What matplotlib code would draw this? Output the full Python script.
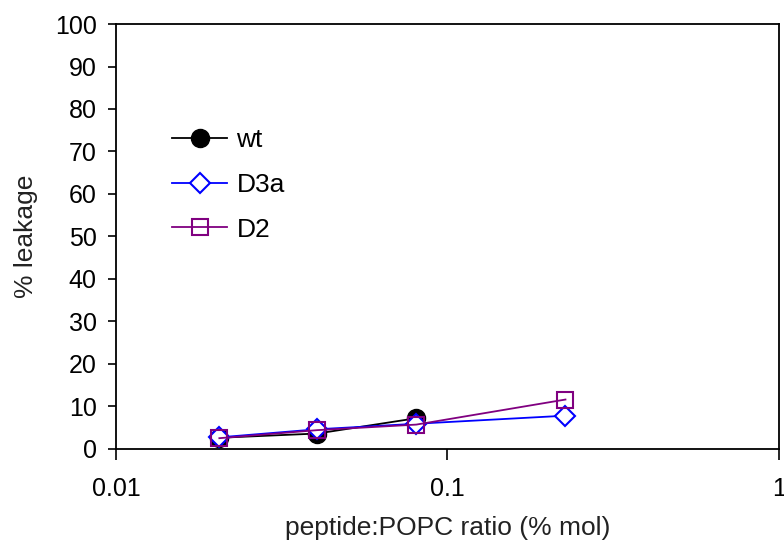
import matplotlib
matplotlib.use("Agg")
import matplotlib.pyplot as plt
from matplotlib.ticker import FixedLocator, NullLocator, FixedFormatter

plt.rcParams['font.family'] = ['Liberation Sans', 'DejaVu Sans']

# data
wt_x = [0.0205, 0.0405, 0.0805]
wt_y = [2.6, 3.6, 7.2]
d3a_x = [0.0205, 0.0405, 0.0805, 0.227]
d3a_y = [2.7, 4.6, 5.9, 7.8]
d2_x = [0.0205, 0.0405, 0.0805, 0.227]
d2_y = [2.5, 4.4, 5.7, 11.6]

x_ticks = [0.01, 0.1, 1]
x_ticklabels = ['0.01', '0.1', '1']
y_ticks = list(range(0, 101, 10))

fig = plt.figure(figsize=(7.84, 5.46), dpi=100)
ax = fig.add_axes([0.148, 0.178, 0.8455, 0.778])

ax.plot(wt_x, wt_y, color='black', lw=1.3, marker='o', ms=13,
        mfc='black', mec='black', label='wt', zorder=3)
ax.plot(d3a_x, d3a_y, color='#0000FF', lw=1.3, marker='D', ms=10,
        mfc='white', mec='#0000FF', mew=1.5, label='D3a', zorder=4)
ax.plot(d2_x, d2_y, color='#800080', lw=1.3, marker='s', ms=12,
        mfc='none', mec='#800080', mew=1.5, label='D2', zorder=5)

ax.set_xscale('log')
ax.set_xlim(0.01, 1)
ax.set_ylim(0, 100)
ax.xaxis.set_major_locator(FixedLocator(x_ticks))
ax.xaxis.set_major_formatter(FixedFormatter(x_ticklabels))
ax.xaxis.set_minor_locator(NullLocator())
ax.set_yticks(y_ticks)

for s in ax.spines.values():
    s.set_linewidth(1.3)
ax.tick_params(axis='y', direction='out', length=6, width=1.2, pad=8, labelsize=18)
ax.tick_params(axis='x', direction='out', length=8, width=1.2, pad=12, labelsize=18)

ax.set_xlabel('peptide:POPC ratio (% mol)', fontsize=19, labelpad=11, color='#222222')
ax.set_ylabel('% leakage', fontsize=19, labelpad=12, color='#222222')

ax.legend(loc='upper left', bbox_to_anchor=(0.069, 0.779), frameon=False,
          fontsize=19, handlelength=2.08, handletextpad=0.35, labelspacing=0.78,
          borderaxespad=0)

fig.savefig('out.png', dpi=100)
